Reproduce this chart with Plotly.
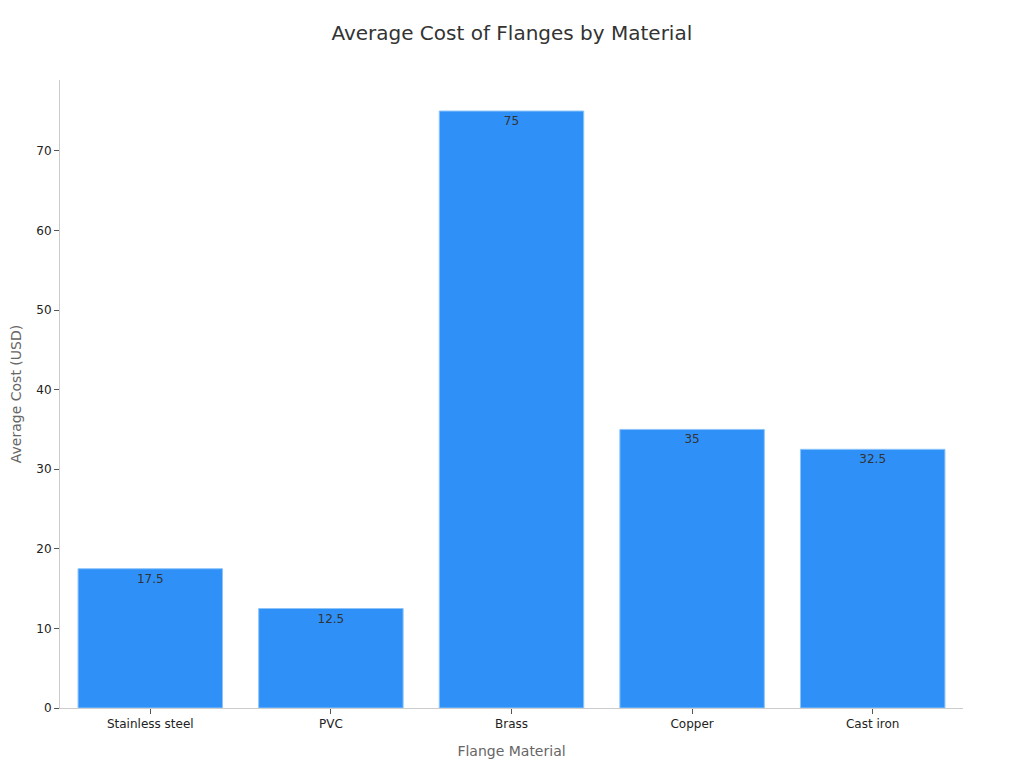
import plotly.graph_objects as go

materials = ["Stainless steel", "PVC", "Brass", "Copper", "Cast iron"]
avg_cost = [17.5, 12.5, 75, 35, 32.5]
y_ticks = [0, 10, 20, 30, 40, 50, 60, 70]

fig = go.Figure(go.Bar(
    x=materials, y=avg_cost,
    text=[str(v) for v in avg_cost],
    textposition="inside", insidetextanchor="end",
    textfont=dict(family="DejaVu Sans", size=12, color="#333333"),
    marker=dict(color="#2F91F8", line=dict(color="#8CC4FA", width=1)),
    width=0.8,
))

fig.update_layout(
    width=1024, height=768,
    paper_bgcolor="white", plot_bgcolor="white",
    margin=dict(l=52, r=69, t=72, b=68),
    title=dict(text="Average Cost of Flanges by Material", x=0.492, xanchor="center",
               y=0.967, yanchor="middle",
               font=dict(family="DejaVu Sans", size=20, color="#333333")),
    font=dict(family="DejaVu Sans", size=12, color="#222222"),
    showlegend=False,
    bargap=0.2,
)
fig.update_xaxes(
    title=dict(text="Flange Material", font=dict(size=14, color="#666666"), standoff=15),
    showline=True, linecolor="#cccccc", linewidth=1,
    ticks="outside", tickcolor="#555555", ticklen=5,
    tickfont=dict(size=12, color="#222222"),
    showgrid=False, automargin=False,
)
fig.update_yaxes(
    title=dict(text="Average Cost (USD)", font=dict(size=14, color="#666666"), standoff=22),
    range=[0, 78.9], tickvals=y_ticks,
    showline=True, linecolor="#cccccc", linewidth=1,
    ticks="outside", tickcolor="#555555", ticklen=5,
    tickfont=dict(size=12, color="#222222"),
    showgrid=False, zeroline=False, automargin=False,
)

fig.write_html("out.html")
